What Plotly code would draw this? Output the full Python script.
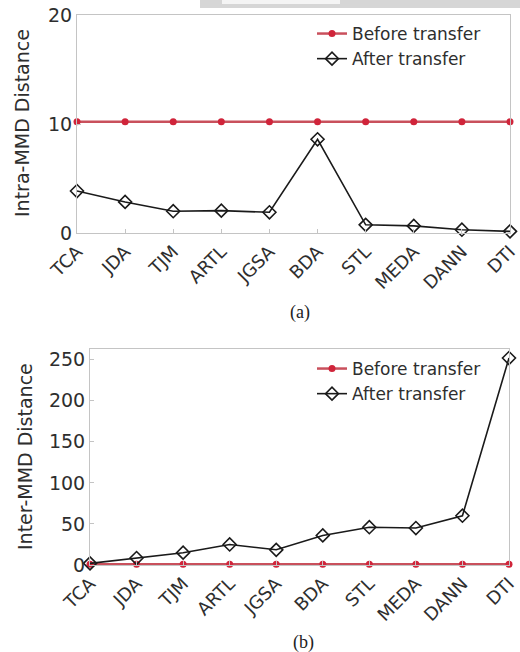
import plotly.graph_objects as go

# Methods compared on the x axis
methods = ["TCA", "JDA", "TJM", "ARTL", "JGSA", "BDA", "STL", "MEDA", "DANN", "DTI"]

# (a) Intra-MMD distance
intra_before = [10.2] * 10
intra_after = [3.85, 2.85, 2.0, 2.05, 1.9, 8.6, 0.75, 0.65, 0.3, 0.15]

# (b) Inter-MMD distance
inter_before = [0.8] * 10
inter_after = [2.0, 8.5, 15.0, 25.0, 18.5, 36.0, 46.0, 45.0, 60.0, 252.0]

intra_ticks = [0, 10, 20]
inter_ticks = [0, 50, 100, 150, 200, 250]

W, H = 520, 652
RED = "#d0243a"
RED_LINE = "#c9505c"
FONT = "DejaVu Sans"
GRAY = "#c4c4c4"
TXT = "#2e2e2e"


def px_x(v):
    return v / W


def px_y(v):
    return 1 - v / H


fig = go.Figure()


def add_pair(before, after, xa, ya, legend):
    fig.add_trace(go.Scatter(
        x=methods, y=before, xaxis=xa, yaxis=ya, name="Before transfer",
        mode="lines+markers", legend=legend,
        line=dict(color=RED_LINE, width=2.5),
        marker=dict(symbol="circle", size=7, color=RED, line=dict(width=0)),
        cliponaxis=False,
    ))
    fig.add_trace(go.Scatter(
        x=methods, y=after, xaxis=xa, yaxis=ya, name="After transfer",
        mode="lines+markers", legend=legend,
        line=dict(color="#1a1a1a", width=1.6),
        marker=dict(symbol="diamond-open", size=10, color="#1a1a1a",
                    line=dict(width=1.6)),
        cliponaxis=False,
    ))


add_pair(intra_before, intra_after, "x", "y", "legend")
add_pair(inter_before, inter_after, "x2", "y2", "legend2")

xcommon = dict(
    type="category", range=[0, 9], tickangle=-45, automargin=False,
    showline=True, linecolor=GRAY, linewidth=1, mirror=True,
    ticks="inside", ticklen=4, tickcolor=GRAY,
    showgrid=False, zeroline=False,
    tickfont=dict(family=FONT, size=18, color=TXT),
)
ycommon = dict(
    automargin=False,
    showline=True, linecolor=GRAY, linewidth=1, mirror=True,
    ticks="inside", ticklen=4, tickcolor=GRAY,
    showgrid=False, zeroline=False,
    tickfont=dict(family=FONT, size=19, color=TXT),
)

legend_common = dict(
    bgcolor="rgba(0,0,0,0)", borderwidth=0,
    font=dict(family=FONT, size=17, color=TXT),
    xanchor="left", yanchor="top", tracegroupgap=0, itemwidth=30,
)

label_font = dict(family=FONT, size=19, color=TXT)
caption_font = dict(family="Liberation Serif", size=18, color="#222222")

fig.update_layout(
    width=W, height=H,
    margin=dict(l=0, r=0, t=0, b=0),
    paper_bgcolor="white", plot_bgcolor="white",
    showlegend=True,
    xaxis=dict(domain=[px_x(77), px_x(510)], anchor="y", **xcommon),
    yaxis=dict(domain=[px_y(233), px_y(15)], anchor="x", range=[0, 20],
               tickvals=intra_ticks, **ycommon),
    xaxis2=dict(domain=[px_x(90), px_x(509)], anchor="y2", **xcommon),
    yaxis2=dict(domain=[px_y(565), px_y(349)], anchor="x2", range=[0, 263],
                tickvals=inter_ticks, **ycommon),
    legend=dict(x=px_x(312), y=px_y(16), **legend_common),
    legend2=dict(x=px_x(312), y=px_y(351), **legend_common),
    annotations=[
        dict(text="Intra-MMD Distance", textangle=-90, x=px_x(22), y=px_y(123),
             xanchor="center", yanchor="middle",
             xref="paper", yref="paper", showarrow=False, font=label_font),
        dict(text="Inter-MMD Distance", textangle=-90, x=px_x(25), y=px_y(457),
             xanchor="center", yanchor="middle",
             xref="paper", yref="paper", showarrow=False, font=label_font),
        dict(text="(a)", x=px_x(300), y=px_y(312), xref="paper", yref="paper",
             xanchor="center", yanchor="middle",
             showarrow=False, font=caption_font),
        dict(text="(b)", x=px_x(303), y=px_y(642), xref="paper", yref="paper",
             xanchor="center", yanchor="middle",
             showarrow=False, font=caption_font),
    ],
    shapes=[
        dict(type="rect", xref="paper", yref="paper",
             x0=px_x(200), x1=1, y0=px_y(8), y1=1,
             fillcolor="#d6d6d6", line=dict(width=0), layer="below"),
        dict(type="rect", xref="paper", yref="paper",
             x0=px_x(222), x1=px_x(340), y0=px_y(4), y1=1,
             fillcolor="#f4f4f4", line=dict(width=0), layer="below"),
    ],
)

fig.write_html("out.html")
